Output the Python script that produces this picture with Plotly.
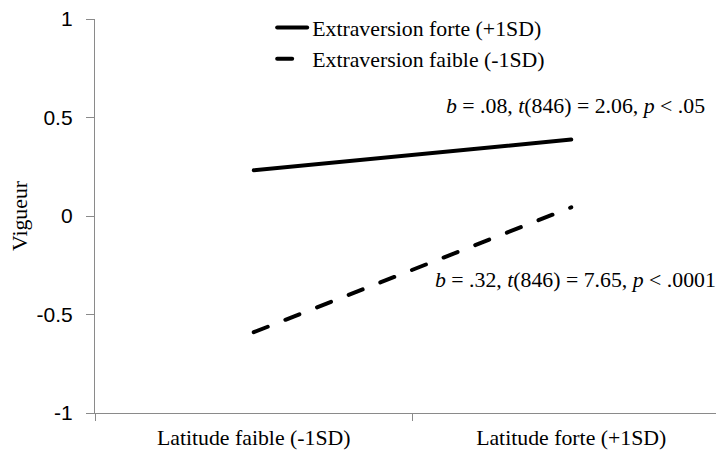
import plotly.graph_objects as go

categories = ["Latitude faible (-1SD)", "Latitude forte (+1SD)"]
forte_values = [0.232, 0.388]
faible_values = [-0.59, 0.044]
series_names = ["Extraversion forte (+1SD)", "Extraversion faible (-1SD)"]
y_tick_vals = [-1, -0.5, 0, 0.5, 1]
y_tick_text = ["-1", "-0.5", "0", "0.5", "1"]
annot_forte = "<i>b</i> = .08, <i>t</i>(846) = 2.06, <i>p</i> &lt; .05"
annot_faible = "<i>b</i> = .32, <i>t</i>(846) = 7.65, <i>p</i> &lt; .0001"

SERIF = "Liberation Serif, Times New Roman, serif"
SANS = "Liberation Sans, Arial, sans-serif"
AXIS_COLOR = "#8a8a8a"
FS = 21.8

fig = go.Figure()
fig.add_trace(go.Scatter(
    x=categories, y=forte_values, mode="lines", name=series_names[0],
    line=dict(color="black", width=4), legendgroup="a",
))
fig.add_trace(go.Scatter(
    x=categories, y=faible_values, mode="lines", name=series_names[1],
    line=dict(color="black", width=4, dash="15px,19px"), legendgroup="b",
))

fig.add_annotation(x=1.013, y=0.557, xref="x", yref="y", text=annot_forte,
                   showarrow=False, xanchor="center", yanchor="middle",
                   font=dict(family=SERIF, size=FS, color="black"))
fig.add_annotation(x=1.013, y=-0.324, xref="x", yref="y", text=annot_faible,
                   showarrow=False, xanchor="center", yanchor="middle",
                   font=dict(family=SERIF, size=FS, color="black"))

fig.update_layout(
    width=724, height=453,
    margin=dict(l=87, r=2.4, t=11.3, b=47.7, autoexpand=False),
    paper_bgcolor="white", plot_bgcolor="white",
    showlegend=True,
    legend=dict(x=0.279, y=1.031, xanchor="left", yanchor="top",
                font=dict(family=SERIF, size=FS, color="black"),
                bgcolor="rgba(0,0,0,0)", tracegroupgap=0,
                itemwidth=30),
    xaxis=dict(
        type="category", range=[-0.5, 1.5], tickson="boundaries",
        ticks="outside", ticklen=7, tickcolor=AXIS_COLOR, tickwidth=1.3,
        showline=True, linecolor=AXIS_COLOR, linewidth=1.3,
        showgrid=False, zeroline=False, automargin=False,
        ticklabelstandoff=5,
        tickfont=dict(family=SERIF, size=FS, color="black"),
    ),
    yaxis=dict(
        range=[-1, 1], tickvals=y_tick_vals, ticktext=y_tick_text,
        ticks="outside", ticklen=8, tickcolor=AXIS_COLOR, tickwidth=1.3,
        showline=True, linecolor=AXIS_COLOR, linewidth=1.3,
        showgrid=False, zeroline=False, automargin=False,
        ticklabelstandoff=9, ticklabeloverflow="allow",
        tickfont=dict(family=SANS, size=21, color="black"),
        title=dict(text="Vigueur", font=dict(family=SERIF, size=FS, color="black"),
                   standoff=8),
    ),
)

round_caps = (
    "var s=document.createElement('style');"
    "s.textContent='.js-line{stroke-linecap:round !important;}';"
    "document.head.appendChild(s);"
)
fig.write_html("out.html", post_script=round_caps)
